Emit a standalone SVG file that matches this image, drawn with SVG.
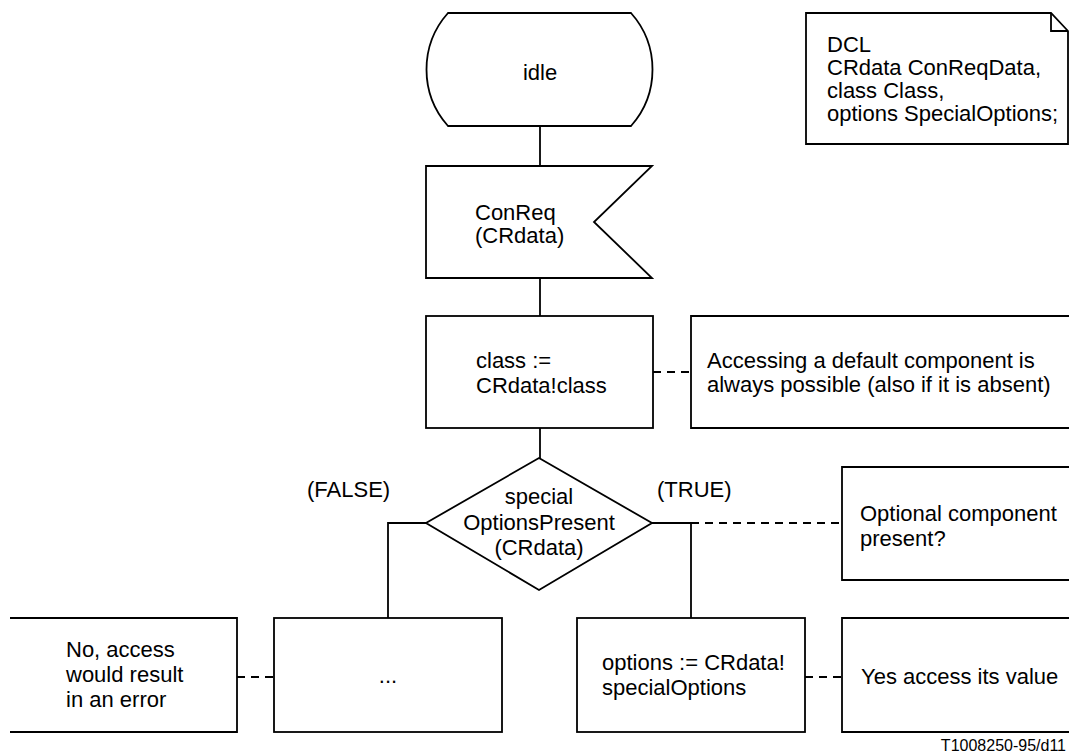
<svg xmlns="http://www.w3.org/2000/svg" width="1069" height="754" viewBox="0 0 1069 754">
  <style>
    .shape { fill: #fff; stroke: #000; stroke-width: 1.8; }
    .open { fill: none; stroke: #000; stroke-width: 1.8; }
    .line { fill: none; stroke: #000; stroke-width: 1.8; }
    .dash { fill: none; stroke: #000; stroke-width: 1.8; stroke-dasharray: 8 6; }
    text { font-family: "Liberation Sans", Arial, sans-serif; font-size: 22px; fill: #000; }
    .mid { text-anchor: middle; }
    .ref { font-size: 16px; text-anchor: end; }
  </style>
  <rect width="1069" height="754" fill="#fff"/>

  <!-- connectors -->
  <g id="connectors">
    <path class="line" d="M540,126 V166"/>
    <path class="line" d="M540,278 V316"/>
    <path class="line" d="M540,428 V458"/>
    <path class="line" d="M426,523 H388 V618"/>
    <path class="line" d="M652,523 H691 V618"/>
    <path class="dash" d="M653,372 H691"/>
    <path class="dash" d="M691,523 H842"/>
    <path class="dash" d="M237,677 H274"/>
    <path class="dash" d="M805,677 H842"/>
  </g>

  <!-- state -->
  <g id="state-idle">
    <path class="shape" d="M448,13 H631 A85,85 0 0 1 631,126 H448 A85,85 0 0 1 448,13 Z"/>
    <text class="mid" x="540" y="80">idle</text>
  </g>

  <!-- declaration text symbol -->
  <g id="dcl">
    <path class="shape" d="M806,13 H1051 L1068,31 V144 H806 Z"/>
    <path class="line" d="M1051,13 V31 H1068"/>
    <text x="827" y="52">DCL</text>
    <text x="827" y="75">CRdata ConReqData,</text>
    <text x="827" y="98">class Class,</text>
    <text x="827" y="121">options SpecialOptions;</text>
  </g>

  <!-- input signal -->
  <g id="input-conreq">
    <path class="shape" d="M426,166 H652 L594,222 L652,278 H426 Z"/>
    <text x="475" y="220">ConReq</text>
    <text x="475" y="243">(CRdata)</text>
  </g>

  <!-- task -->
  <g id="task-class">
    <rect class="shape" x="426" y="316" width="227" height="112"/>
    <text x="476" y="368">class :=</text>
    <text x="476" y="393">CRdata!class</text>
  </g>

  <g id="comment-default">
    <path class="open" d="M1070,316 H691 V428 H1070"/>
    <text x="707" y="368">Accessing a default component is</text>
    <text x="707" y="392">always possible (also if it is absent)</text>
  </g>

  <!-- decision -->
  <g id="decision">
    <path class="shape" d="M539,458 L652,523 L539,590 L426,523 Z"/>
    <text class="mid" x="539" y="504">special</text>
    <text class="mid" x="539" y="530">OptionsPresent</text>
    <text class="mid" x="539" y="555">(CRdata)</text>
    <text x="307" y="497">(FALSE)</text>
    <text x="657" y="497">(TRUE)</text>
  </g>

  <g id="comment-optional">
    <path class="open" d="M1070,467 H842 V580 H1070"/>
    <text x="860" y="521">Optional component</text>
    <text x="860" y="546">present?</text>
  </g>

  <!-- false branch -->
  <g id="comment-error">
    <path class="open" d="M10,618 H237 V732 H10"/>
    <text x="66" y="657">No, access</text>
    <text x="66" y="682">would result</text>
    <text x="66" y="707">in an error</text>
  </g>

  <g id="task-ellipsis">
    <rect class="shape" x="274" y="618" width="228" height="114"/>
    <text class="mid" x="388" y="683">...</text>
  </g>

  <!-- true branch -->
  <g id="task-options">
    <rect class="shape" x="577" y="618" width="228" height="114"/>
    <text x="602" y="670">options := CRdata!</text>
    <text x="602" y="695">specialOptions</text>
  </g>

  <g id="comment-value">
    <path class="open" d="M1070,618 H842 V732 H1070"/>
    <text x="861" y="684">Yes access its value</text>
  </g>

  <text class="ref" x="1066" y="751">T1008250-95/d11</text>
</svg>
